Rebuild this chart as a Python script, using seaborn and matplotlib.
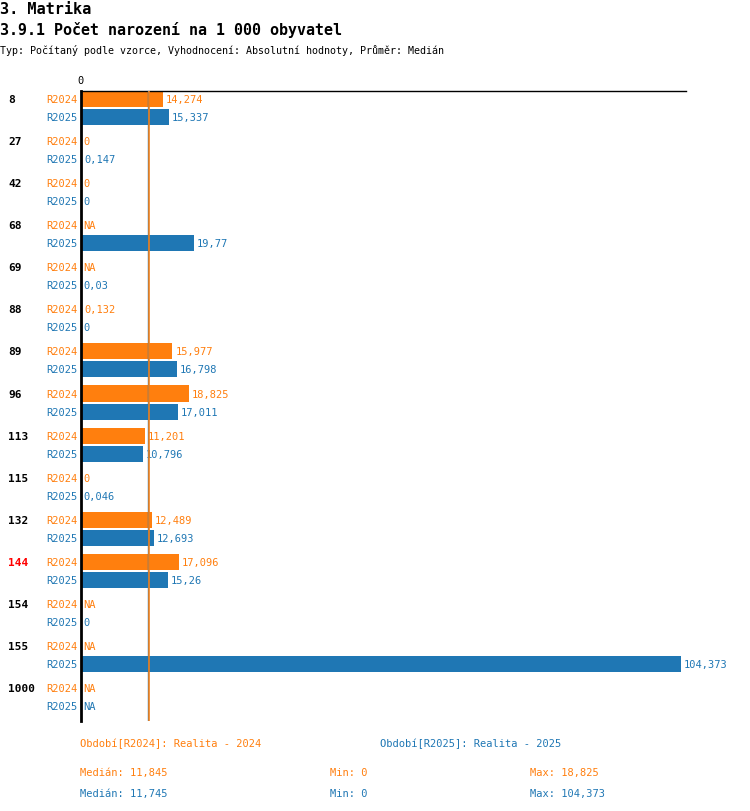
import numpy as np
import pandas as pd
import matplotlib
matplotlib.use("Agg")
import matplotlib.pyplot as plt
import seaborn as sns

ORANGE = "#ff7f0e"
BLUE = "#1f77b4"
MONO = ["DejaVu Sans Mono"]

groups = ["8", "27", "42", "68", "69", "88", "89", "96", "113", "115",
          "132", "144", "154", "155", "1000"]
r2024 = [14.274, 0, 0, np.nan, np.nan, 0.132, 15.977, 18.825, 11.201, 0,
         12.489, 17.096, np.nan, np.nan, np.nan]
r2025 = [15.337, 0.147, 0, 19.77, 0.03, 0, 16.798, 17.011, 10.796, 0.046,
         12.693, 15.26, 0, 104.373, np.nan]
highlight = "144"

median_2024 = 11.845
median_2025 = 11.745
min_2024, max_2024 = 0, 18.825
min_2025, max_2025 = 0, 104.373

series = ["R2024", "R2025"]
colors = {"R2024": ORANGE, "R2025": BLUE}

df = pd.DataFrame({"group": groups * 2,
                   "series": ["R2024"] * len(groups) + ["R2025"] * len(groups),
                   "value": r2024 + r2025})

sns.set_theme(style="white")
plt.rcParams["font.family"] = MONO
plt.rcParams["text.color"] = "black"

W, H = 750, 812
fig = plt.figure(figsize=(W / 100, H / 100), dpi=100)

def fx(px):
    return px / W

def fy(py):
    return 1 - py / H

ax = fig.add_axes([fx(80.5), fy(722), fx(686) - fx(80.5), fy(92) - fy(722)])

sns.barplot(data=df, y="group", x="value", hue="series", order=groups,
            hue_order=series, palette=colors, orient="h", width=0.857,
            gap=0.11, saturation=1, legend=False, ax=ax, errorbar=None,
            linewidth=0)

ax.set_xlim(0, 105.2)
ax.set_ylim(14.57, -0.405)
ax.set_xticks([])
ax.set_yticks([])
ax.set_xlabel("")
ax.set_ylabel("")
for s in ["right", "bottom"]:
    ax.spines[s].set_visible(False)
ax.spines["left"].set_linewidth(2)
ax.spines["left"].set_color("black")
ax.spines["top"].set_linewidth(1)
ax.spines["top"].set_color("black")
ax.spines["top"].set_zorder(5)

# median lines (blue underneath, orange on top)
ax.axvline(median_2025, color=BLUE, lw=1.0, zorder=6)
ax.axvline(median_2024, color=ORANGE, lw=1.1, zorder=7)

def fmt(v):
    if np.isnan(v):
        return "NA"
    return f"{v:g}".replace(".", ",")

offset = 0.857 / 4
for i, g in enumerate(groups):
    for j, (s, vals) in enumerate(zip(series, [r2024, r2025])):
        yy = i + (-offset if j == 0 else offset)
        v = vals[i]
        xv = 0 if np.isnan(v) else v
        ax.annotate(fmt(v), (xv, yy), xytext=(2, 0), textcoords="offset points",
                    ha="left", va="center", color=colors[s], fontsize=7.5,
                    annotation_clip=False)
        ax.annotate(s, (0, yy), xytext=(-2.5, 0), textcoords="offset points",
                    ha="right", va="center", color=colors[s], fontsize=7.5,
                    annotation_clip=False)
    gc = "red" if g == highlight else "black"
    ax.annotate(g, (0, i - offset), xycoords="data", xytext=(fx(8), 0),
                textcoords=("figure fraction", "offset points"),
                ha="left", va="center", color=gc, fontsize=8, fontweight="bold",
                annotation_clip=False)

fig.text(fx(80), fy(81), "0", ha="center", va="center", fontsize=7.5)

fig.text(0, fy(9), "3. Matrika", ha="left", va="center", fontsize=11,
         fontweight="bold")
fig.text(0, fy(30), "3.9.1 Počet narození na 1 000 obyvatel", ha="left",
         va="center", fontsize=10.8, fontweight="bold")
fig.text(0, fy(50), "Typ: Počítaný podle vzorce, Vyhodnocení: Absolutní hodnoty, Průměr: Medián",
         ha="left", va="center", fontsize=7.2)

fig.text(fx(80), fy(744), "Období[R2024]: Realita - 2024", color=ORANGE,
         ha="left", va="center", fontsize=7.5)
fig.text(fx(380), fy(744), "Období[R2025]: Realita - 2025", color=BLUE,
         ha="left", va="center", fontsize=7.5)

for py, c, med, mn, mx in [(773, ORANGE, median_2024, min_2024, max_2024),
                           (794, BLUE, median_2025, min_2025, max_2025)]:
    fig.text(fx(80), fy(py), f"Medián: {fmt(med)}", color=c, ha="left",
             va="center", fontsize=7.5)
    fig.text(fx(330), fy(py), f"Min: {fmt(mn)}", color=c, ha="left",
             va="center", fontsize=7.5)
    fig.text(fx(530), fy(py), f"Max: {fmt(mx)}", color=c, ha="left",
             va="center", fontsize=7.5)

fig.savefig("out.png", dpi=100)
